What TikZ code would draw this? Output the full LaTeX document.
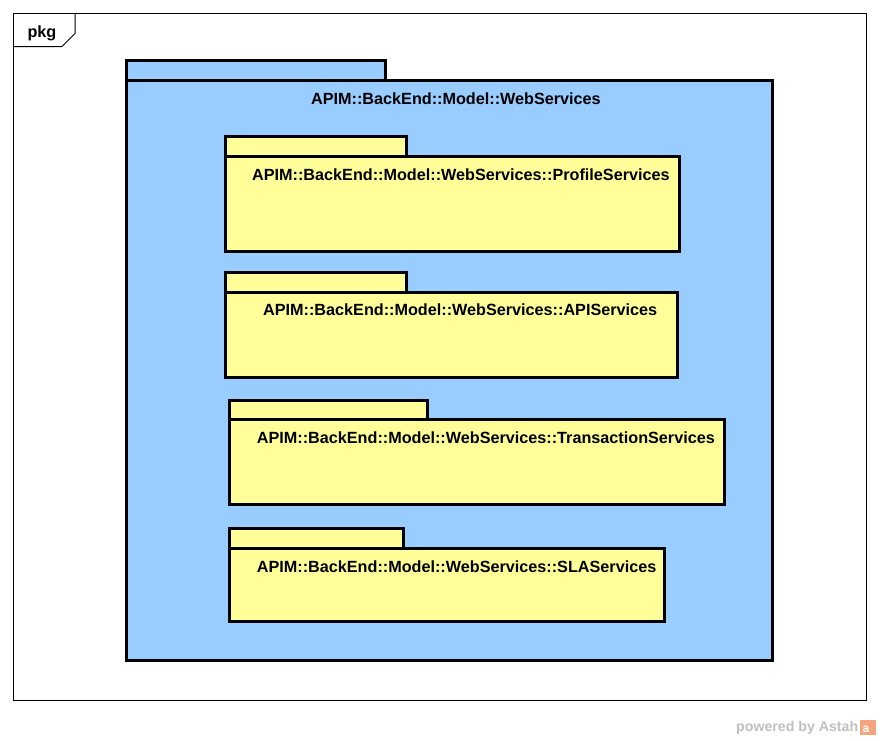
\documentclass[tikz,border=0pt]{standalone}
\usepackage{fontspec}
\usepackage{graphicx}
\setmainfont{Liberation Sans}
\definecolor{pkgblue}{RGB}{153,204,255}
\definecolor{pkgyellow}{RGB}{255,255,153}
\definecolor{astahgrey}{RGB}{192,192,192}
\definecolor{astahorange}{RGB}{245,165,125}
\begin{document}
\begin{tikzpicture}[x=1pt,y=-1pt,line join=miter,
  pkgline/.style={line width=3pt,draw=black},
  bluepkg/.style={pkgline,fill=pkgblue},
  yellowpkg/.style={pkgline,fill=pkgyellow},
  title/.style={font=\fontsize{16.2}{19}\selectfont\bfseries,anchor=base west,inner sep=0pt},
  frameline/.style={line width=1pt,draw=black}]
\useasboundingbox (0,0) rectangle (880,740);
\fill[white] (0,0) rectangle (880,740);
% diagram frame
\draw[frameline] (13.5,13.5) rectangle (866,700);
\draw[frameline] (13.5,46.5) -- (62,46.5) -- (75,33.5) -- (75,13.5);
\node[title] (pkg) at (27.3,37.3) {pkg};
% outer package
\path[bluepkg] (126,60.5) rectangle (385,80);
\path[bluepkg] (126,80) rectangle (772.5,660);
\node[title] (ws) at (311,104.5) {APIM::BackEnd::Model::WebServices};
% ProfileServices
\path[yellowpkg] (225,136.5) rectangle (406.5,156);
\path[yellowpkg] (225,156) rectangle (679,251);
\node[title] (profile) at (252,180) {APIM::BackEnd::Model::WebServices::ProfileServices};
% APIServices
\path[yellowpkg] (225,272.7) rectangle (406,292.3);
\path[yellowpkg] (225,292.3) rectangle (677.7,377);
\node[title] (api) at (263,315.7) {APIM::BackEnd::Model::WebServices::APIServices};
% TransactionServices
\path[yellowpkg] (229.3,400) rectangle (427,419.3);
\path[yellowpkg] (229.3,419.3) rectangle (724.5,504.3);
\node[title] (trans) at (256.7,443.3) {APIM::BackEnd::Model::WebServices::TransactionServices};
% SLAServices
\path[yellowpkg] (229.3,528.7) rectangle (403.3,548.3);
\path[yellowpkg] (229.3,548.3) rectangle (664,621);
\node[title] (sla) at (256.7,572.3) {APIM::BackEnd::Model::WebServices::SLAServices};
% watermark
\node[text=astahgrey,anchor=base west,inner sep=0pt] (powered) at (736,731.7) {\resizebox{122pt}{!}{\fontsize{14}{17}\selectfont\bfseries powered by Astah}};
\fill[astahorange] (860,720) rectangle (876,735);
\node[font=\fontsize{12}{14}\selectfont\bfseries,text=white,inner sep=0pt] (logo) at (866,729) {a};
\end{tikzpicture}
\end{document}
